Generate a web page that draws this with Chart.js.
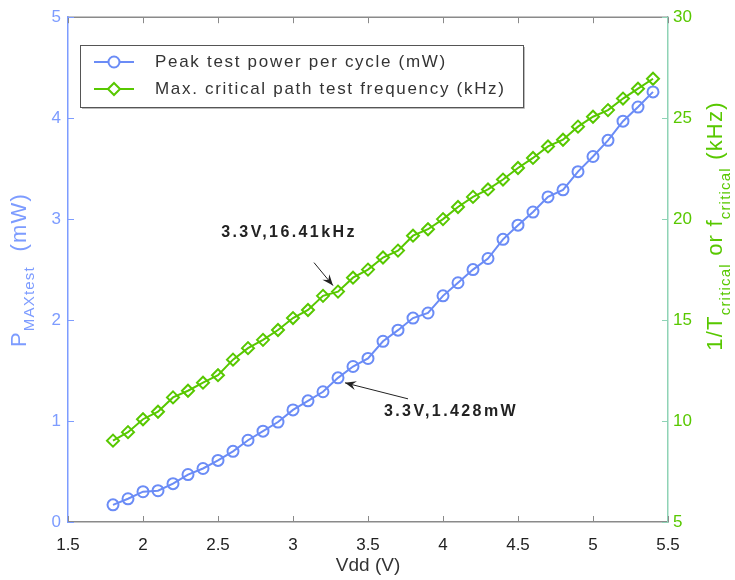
<!DOCTYPE html>
<html>
<head>
<meta charset="utf-8">
<script src="https://cdn.jsdelivr.net/npm/chart.js@4.4.0/dist/chart.umd.min.js"></script>
<style>
  html, body { margin: 0; padding: 0; background: #fff; }
  #wrap { width: 735px; height: 580px; }
</style>
</head>
<body>
<div id="wrap"><canvas id="chart"></canvas></div>
<script>
// Supply voltage (V)
const vdd = [1.8, 1.9, 2.0, 2.1, 2.2, 2.3, 2.4, 2.5, 2.6, 2.7, 2.8, 2.9, 3.0, 3.1, 3.2, 3.3, 3.4, 3.5, 3.6,
             3.7, 3.8, 3.9, 4.0, 4.1, 4.2, 4.3, 4.4, 4.5, 4.6, 4.7, 4.8, 4.9, 5.0, 5.1, 5.2, 5.3, 5.4];
// Peak test power per cycle (mW)
const peakPower = [0.17, 0.23, 0.30, 0.31, 0.38, 0.47, 0.53, 0.61, 0.70, 0.81, 0.90, 0.99, 1.11, 1.20, 1.29, 1.428, 1.54, 1.62, 1.79,
                   1.90, 2.02, 2.07, 2.24, 2.37, 2.50, 2.61, 2.80, 2.94, 3.07, 3.22, 3.29, 3.47, 3.62, 3.78, 3.97, 4.11, 4.26];
// Max. critical path test frequency (kHz)
const critFreq = [9.03, 9.45, 10.09, 10.46, 11.17, 11.5, 11.9, 12.27, 13.04, 13.61, 14.02, 14.51, 15.1, 15.5, 16.2, 16.41, 17.1, 17.5, 18.1,
                  18.44, 19.18, 19.5, 20.0, 20.6, 21.1, 21.47, 21.96, 22.53, 23.03, 23.6, 23.93, 24.58, 25.07, 25.4, 25.97, 26.46, 26.95];
const xTicks = [1.5, 2, 2.5, 3, 3.5, 4, 4.5, 5, 5.5];
const powerTicks = [0, 1, 2, 3, 4, 5];
const freqTicks = [5, 10, 15, 20, 25, 30];
const seriesNames = ['Peak test power per cycle (mW)', 'Max. critical path test frequency (kHz)'];
const markIndex = vdd.indexOf(3.3);

const BLUE = '#6b8cf6';
const BLUE_AXIS = '#7d9cff';
const GREEN = '#58c800';
const GREEN_AXIS = '#8fd3b6';
const GREY = '#8a8a8a';
const FONT = '"Liberation Sans", Arial, Helvetica, sans-serif';

// MATLAB style inward ticks, top border, legend box, annotations and axis titles
const decorations = {
    id: 'decorations',
    afterDraw(chart) {
        const ctx = chart.ctx;
        const a = chart.chartArea;
        const sx = chart.scales.x, sy = chart.scales.y, sy2 = chart.scales.y2;
        ctx.save();

        // top border
        ctx.strokeStyle = GREY;
        ctx.lineWidth = 1.5;
        ctx.beginPath();
        ctx.moveTo(a.left, a.top);
        ctx.lineTo(a.right, a.top);
        ctx.stroke();

        // inward ticks
        ctx.lineWidth = 1;
        xTicks.forEach(v => {
            const px = Math.round(sx.getPixelForValue(v)) + 0.5;
            ctx.strokeStyle = GREY;
            ctx.beginPath();
            ctx.moveTo(px, a.bottom); ctx.lineTo(px, a.bottom - 6);
            ctx.moveTo(px, a.top); ctx.lineTo(px, a.top + 6);
            ctx.stroke();
        });
        powerTicks.forEach(v => {
            const py = Math.round(sy.getPixelForValue(v)) + 0.5;
            ctx.strokeStyle = BLUE_AXIS;
            ctx.beginPath();
            ctx.moveTo(a.left, py); ctx.lineTo(a.left + 6, py);
            ctx.stroke();
        });
        freqTicks.forEach(v => {
            const py = Math.round(sy2.getPixelForValue(v)) + 0.5;
            ctx.strokeStyle = GREEN_AXIS;
            ctx.beginPath();
            ctx.moveTo(a.right, py); ctx.lineTo(a.right - 6, py);
            ctx.stroke();
        });

        // legend
        const lx = 80, ly = 45, lw = 443, lh = 62;
        ctx.fillStyle = '#fff';
        ctx.fillRect(lx, ly, lw, lh);
        ctx.strokeStyle = '#555';
        ctx.lineWidth = 1;
        ctx.strokeRect(lx + 0.5, ly + 0.5, lw, lh);
        ctx.strokeStyle = '#bbb';
        ctx.beginPath();
        ctx.moveTo(lx + 2, ly + lh + 1.5); ctx.lineTo(lx + lw + 1.5, ly + lh + 1.5); ctx.lineTo(lx + lw + 1.5, ly + 2);
        ctx.stroke();
        chart.data.datasets.forEach((ds, i) => {
            const yy = ly + 17 + i * 27;
            ctx.strokeStyle = ds.borderColor;
            ctx.lineWidth = 2;
            ctx.beginPath();
            ctx.moveTo(lx + 14, yy); ctx.lineTo(lx + 54, yy);
            ctx.stroke();
            ctx.fillStyle = '#fff';
            Chart.helpers.drawPoint(ctx, {
                pointStyle: ds.pointStyle, radius: ds.pointRadius, borderWidth: ds.pointBorderWidth, rotation: 0
            }, lx + 34, yy);
            ctx.fillStyle = '#333';
            ctx.font = '17px ' + FONT;
            ctx.letterSpacing = '1.7px';
            ctx.textAlign = 'left';
            ctx.textBaseline = 'middle';
            ctx.fillText(seriesNames[i], lx + 75, yy);
            ctx.letterSpacing = '0px';
        });

        // annotations at 3.3 V
        const drawArrow = (x1, y1, x2, y2) => {
            ctx.strokeStyle = '#222';
            ctx.fillStyle = '#222';
            ctx.lineWidth = 1;
            ctx.beginPath();
            ctx.moveTo(x1, y1); ctx.lineTo(x2, y2);
            ctx.stroke();
            const ang = Math.atan2(y2 - y1, x2 - x1);
            const L = 12, W = 0.38;
            ctx.beginPath();
            ctx.moveTo(x2, y2);
            ctx.lineTo(x2 - L * Math.cos(ang - W), y2 - L * Math.sin(ang - W));
            ctx.lineTo(x2 - L * 0.6 * Math.cos(ang), y2 - L * 0.6 * Math.sin(ang));
            ctx.lineTo(x2 - L * Math.cos(ang + W), y2 - L * Math.sin(ang + W));
            ctx.closePath();
            ctx.fill();
        };
        const gx = sx.getPixelForValue(vdd[markIndex]);
        const gy = sy2.getPixelForValue(critFreq[markIndex]);
        drawArrow(gx - 24, gy - 29, gx - 5, gy - 6);
        const by = sy.getPixelForValue(peakPower[markIndex]);
        drawArrow(gx + 70, by + 21, gx + 7, by + 5);
        ctx.fillStyle = '#222';
        ctx.font = 'bold 16px ' + FONT;
        ctx.letterSpacing = '2.4px';
        ctx.textAlign = 'center';
        ctx.textBaseline = 'middle';
        ctx.fillText(vdd[markIndex].toFixed(1) + 'V,' + critFreq[markIndex].toFixed(2) + 'kHz', gx - 49, gy - 59);
        ctx.fillText(vdd[markIndex].toFixed(1) + 'V,' + peakPower[markIndex].toFixed(3) + 'mW', gx + 113, by + 34);
        ctx.letterSpacing = '0px';

        // axis titles
        const richVertical = (segs, cx, cy, color) => {
            ctx.save();
            ctx.translate(cx, cy);
            ctx.rotate(-Math.PI / 2);
            ctx.fillStyle = color;
            ctx.textBaseline = 'middle';
            ctx.textAlign = 'left';
            ctx.letterSpacing = '1.2px';
            let total = 0;
            segs.forEach(s => { ctx.font = s.size + 'px ' + FONT; total += ctx.measureText(s.t).width; });
            let x = -total / 2;
            segs.forEach(s => {
                ctx.font = s.size + 'px ' + FONT;
                ctx.fillText(s.t, x, s.dy || 0);
                x += ctx.measureText(s.t).width;
            });
            ctx.restore();
        };
        richVertical([
            { t: 'P', size: 22 }, { t: 'MAXtest', size: 15, dy: 10 }, { t: '  (mW)', size: 22 }
        ], 20, 270, BLUE_AXIS);
        richVertical([
            { t: '1/T', size: 22 }, { t: 'critical', size: 15, dy: 10 }, { t: ' or f', size: 22 },
            { t: 'critical', size: 15, dy: 10 }, { t: ' (kHz)', size: 22 }
        ], 716, 226, GREEN);

        ctx.fillStyle = '#333';
        ctx.font = '19px ' + FONT;
        ctx.textAlign = 'center';
        ctx.textBaseline = 'middle';
        ctx.fillText('Vdd (V)', (a.left + a.right) / 2, 566);
        ctx.restore();
    }
};

const ctx = document.getElementById('chart').getContext('2d');
new Chart(ctx, {
    type: 'line',
    data: {
        datasets: [
            {
                label: seriesNames[0],
                data: vdd.map((v, i) => ({ x: v, y: peakPower[i] })),
                yAxisID: 'y',
                borderColor: BLUE,
                backgroundColor: 'rgba(0,0,0,0)',
                borderWidth: 2,
                pointStyle: 'circle',
                pointRadius: 5.5,
                pointBorderWidth: 2,
                pointBorderColor: BLUE,
                pointBackgroundColor: 'rgba(0,0,0,0)',
                tension: 0
            },
            {
                label: seriesNames[1],
                data: vdd.map((v, i) => ({ x: v, y: critFreq[i] })),
                yAxisID: 'y2',
                borderColor: GREEN,
                backgroundColor: 'rgba(0,0,0,0)',
                borderWidth: 2,
                pointStyle: 'rectRot',
                pointRadius: 6,
                pointBorderWidth: 2,
                pointBorderColor: GREEN,
                pointBackgroundColor: 'rgba(0,0,0,0)',
                tension: 0
            }
        ]
    },
    options: {
        responsive: true,
        maintainAspectRatio: false,
        animation: false,
        layout: { padding: { top: 13, left: 0, right: 0, bottom: 0 } },
        plugins: {
            legend: { display: false },
            tooltip: { enabled: false }
        },
        scales: {
            x: {
                type: 'linear',
                position: 'bottom',
                min: 1.5,
                max: 5.5,
                afterBuildTicks: s => { s.ticks = xTicks.map(v => ({ value: v })); },
                afterFit: s => { s.height = 58; },
                grid: { drawOnChartArea: false, drawTicks: false },
                border: { color: GREY, width: 1.5 },
                ticks: {
                    color: '#222',
                    font: { family: FONT, size: 17 },
                    padding: 13,
                    maxRotation: 0,
                    callback: v => String(v)
                }
            },
            y: {
                type: 'linear',
                position: 'left',
                min: 0,
                max: 5,
                afterBuildTicks: s => { s.ticks = powerTicks.map(v => ({ value: v })); },
                afterFit: s => { s.width = 68; },
                grid: { drawOnChartArea: false, drawTicks: false },
                border: { color: BLUE_AXIS, width: 1.5 },
                ticks: {
                    color: BLUE_AXIS,
                    font: { family: FONT, size: 17 },
                    padding: 7
                }
            },
            y2: {
                type: 'linear',
                position: 'right',
                min: 5,
                max: 30,
                afterBuildTicks: s => { s.ticks = freqTicks.map(v => ({ value: v })); },
                afterFit: s => { s.width = 67; },
                grid: { drawOnChartArea: false, drawTicks: false },
                border: { color: GREEN_AXIS, width: 1.5 },
                ticks: {
                    color: GREEN,
                    font: { family: FONT, size: 17 },
                    padding: 5
                }
            }
        }
    },
    plugins: [decorations]
});
</script>
</body>
</html>
